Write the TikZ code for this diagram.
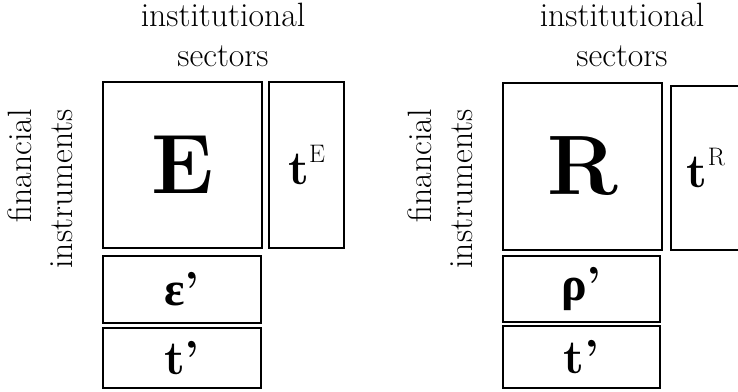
\documentclass[tikz,border=0pt]{standalone}
\usepackage{amsmath,amssymb}
\usepackage{fontspec}
\usepackage{tikz}

\newfontfamily\grkfont{Liberation Serif}
\newcommand{\supE}[1]{\raisebox{15pt}{\fontsize{18}{18}\selectfont\mdseries #1}}

\begin{document}
\begin{tikzpicture}[x=0.025cm, y=-0.025cm,
  cell/.style={draw=black, line width=1.2pt, inner sep=0pt,
    font=\fontsize{34}{36}\selectfont\bfseries},
  big/.style={font=\fontsize{60}{62}\selectfont\bfseries},
  head/.style={align=center, font=\fontsize{24}{29}\selectfont},
  side/.style={head, align=right, rotate=90},
]
  \clip (0,0) rectangle (738,392);

  \node[cell, big, minimum width=3.975cm, minimum height=4.15cm] (E) at (182.5,165) {E};
  \node[cell, minimum width=1.875cm, minimum height=4.15cm] (tE) at (306.5,165) {t\supE{E}};
  \node[cell, minimum width=3.95cm, minimum height=1.675cm] (epsT) at (182,289.5)
    {{\grkfont ε}'};
  \node[cell, minimum width=3.95cm, minimum height=1.5cm] (tT1) at (182,358) {t'};

  \node[cell, big, minimum width=3.975cm, minimum height=4.175cm] (R) at (582.5,166.5) {R};
  \node[cell, minimum width=1.75cm, minimum height=4.1cm] (tR) at (706,168) {t\supE{R}};
  \node[cell, minimum width=3.925cm, minimum height=1.65cm] (rhoT) at (581.5,289)
    {{\grkfont ρ}'};
  \node[cell, minimum width=3.925cm, minimum height=1.55cm] (tT2) at (581.5,357) {t'};

  \node[head] (secL) at (223,35) {institutional\\sectors};
  \node[head] (secR) at (622,35) {institutional\\sectors};
  \node[side] (finL) at (40,189) {financial\\instruments};
  \node[side] (finR) at (440,189) {financial\\instruments};
\end{tikzpicture}
\end{document}
